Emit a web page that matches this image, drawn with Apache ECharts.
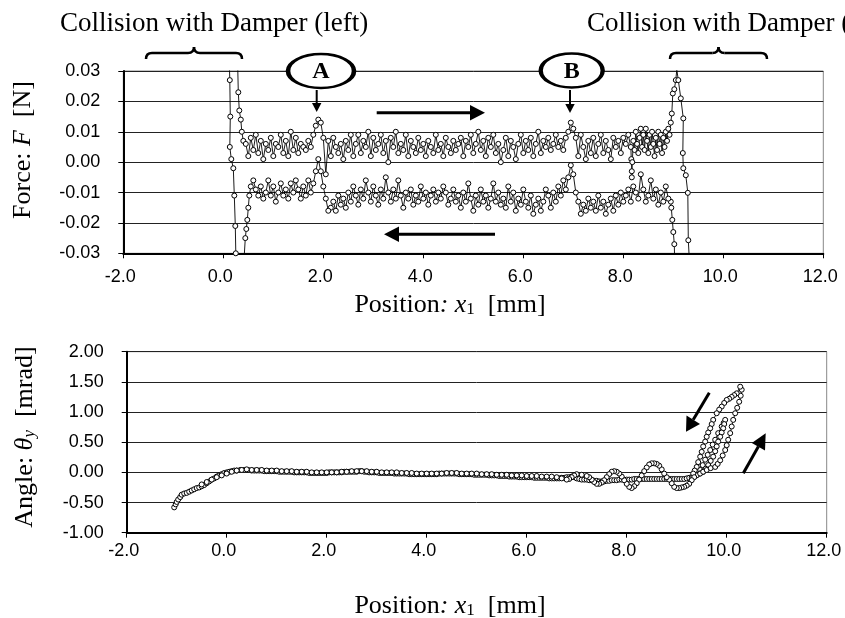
<!DOCTYPE html>
<html><head><meta charset="utf-8">
<script src="https://cdn.jsdelivr.net/npm/echarts@6/dist/echarts.min.js"></script>
<style>html,body{margin:0;padding:0;background:#fff}#c{width:845px;height:618px}</style>
</head><body><div id="c"></div>
<script>
// ---------- DATA ----------
const xTicks = [-2, 0, 2, 4, 6, 8, 10, 12];
const forceTicks = [-0.03, -0.02, -0.01, 0.00, 0.01, 0.02, 0.03];
const angleTicks = [-1.0, -0.5, 0.0, 0.5, 1.0, 1.5, 2.0];

// Force F [N] vs position x1 [mm], moving right (upper branch)
const forwardForce = [
[0.30,-0.050],[0.25,-0.030],[0.24,-0.021],[0.22,-0.011],[0.20,-0.002],[0.16,0.001],[0.13,0.005],[0.14,0.015],[0.13,0.027],[0.10,0.045],[0.20,0.060],[0.27,0.045],[0.30,0.023],[0.32,0.017],[0.35,0.014],[0.37,0.010],[0.40,0.007],
[0.45,0.006],[0.50,0.002],[0.55,0.008],[0.60,0.004],[0.65,0.009],[0.70,0.003],[0.75,0.007],[0.80,0.001],[0.85,0.006],[0.90,0.004],[0.95,0.008],
[1.00,0.002],[1.05,0.006],[1.10,0.005],[1.15,0.009],[1.20,0.003],[1.25,0.007],[1.30,0.002],[1.35,0.010],[1.40,0.004],[1.45,0.008],[1.50,0.003],[1.55,0.006],[1.60,0.005],[1.65,0.004],[1.70,0.007],[1.75,0.005],[1.80,0.009],[1.85,0.012],[1.90,0.014],[1.95,0.013],
[2.00,0.008],[2.05,-0.004],[2.10,0.007],[2.15,0.002],[2.20,0.008],[2.25,0.005],[2.30,0.003],[2.35,0.006],[2.40,0.001],[2.45,0.007],[2.50,0.004],[2.55,0.009],[2.60,0.002],[2.65,0.006],[2.70,0.009],[2.75,0.003],[2.80,0.007],[2.85,0.005],[2.90,0.010],[2.95,0.002],
[3.00,0.008],[3.05,0.004],[3.10,0.006],[3.15,0.009],[3.20,0.003],[3.25,0.007],[3.30,0.000],[3.35,0.008],[3.40,0.005],[3.45,0.010],[3.50,0.003],[3.55,0.006],[3.60,0.004],[3.65,0.009],[3.70,0.002],[3.75,0.007],[3.80,0.005],[3.85,0.003],[3.90,0.008],[3.95,0.004],
[4.00,0.006],[4.05,0.002],[4.10,0.007],[4.15,0.005],[4.20,0.003],[4.25,0.009],[4.30,0.004],[4.35,0.006],[4.40,0.002],[4.45,0.008],[4.50,0.005],[4.55,0.003],[4.60,0.007],[4.65,0.004],[4.70,0.006],[4.75,0.008],[4.80,0.002],[4.85,0.007],[4.90,0.005],[4.95,0.009],
[5.00,0.003],[5.05,0.006],[5.10,0.010],[5.15,0.004],[5.20,0.007],[5.25,0.002],[5.30,0.008],[5.35,0.005],[5.40,0.009],[5.45,0.003],[5.50,0.006],[5.55,0.000],[5.60,0.004],[5.65,0.008],[5.70,0.002],[5.75,0.007],[5.80,0.005],[5.85,0.001],[5.90,0.006],[5.95,0.009],
[6.00,0.003],[6.05,0.007],[6.10,0.004],[6.15,0.008],[6.20,0.002],[6.25,0.006],[6.30,0.010],[6.35,0.003],[6.40,0.007],[6.45,0.005],[6.50,0.008],[6.55,0.004],[6.60,0.006],[6.65,0.009],[6.70,0.005],[6.75,0.007],[6.80,0.004],[6.85,0.008],[6.90,0.010],[6.95,0.013],
[7.00,0.011],[7.05,0.008],[7.10,0.002],[7.15,0.009],[7.20,0.005],[7.25,0.001],[7.30,0.007],[7.35,0.003],[7.40,0.008],[7.45,0.002],[7.50,0.006],[7.55,0.009],[7.60,0.003],[7.65,0.007],[7.70,0.004],[7.75,0.001],[7.80,0.008],[7.85,0.005],[7.90,0.007],[7.95,0.003],
[8.00,0.008],[8.05,0.006],[8.10,0.009],[8.15,0.005],[8.16,0.001],[8.17,-0.003],[8.17,-0.005],[8.18,0.000],
[8.200,0.007],[8.225,0.004],[8.250,0.010],[8.275,0.006],[8.300,0.003],[8.325,0.008],[8.350,0.011],[8.375,0.005],[8.400,0.009],[8.425,0.004],[8.450,0.011],[8.475,0.007],[8.500,0.003],[8.525,0.009],[8.550,0.005],[8.575,0.010],
[8.600,0.006],[8.625,0.002],[8.650,0.008],[8.675,0.004],[8.700,0.010],[8.725,0.006],[8.750,0.009],[8.775,0.003],[8.800,0.008],[8.825,0.005],[8.850,0.010],[8.875,0.007],[8.900,0.011],[8.925,0.009],[8.950,0.013],
[8.97,0.016],[8.99,0.0226],[9.02,0.024],[9.05,0.027],[9.07,0.0305],[9.10,0.027],[9.15,0.021],[9.20,0.0144],[9.19,0.003],[9.20,-0.002],[9.25,-0.0043],[9.29,-0.0101],[9.30,-0.0257],[9.33,-0.035],[9.36,-0.060]
];

// Force F [N] vs position x1 [mm], moving left (lower branch)
const backwardForce = [
[9.20,-0.060],[9.03,-0.035],[9.02,-0.027],[9.00,-0.023],[8.98,-0.019],[8.96,-0.015],
[8.95,-0.013],[8.90,-0.012],[8.85,-0.008],[8.80,-0.013],[8.75,-0.010],[8.70,-0.014],[8.65,-0.009],[8.60,-0.012],[8.55,-0.006],[8.50,-0.011],[8.45,-0.013],[8.40,-0.009],[8.35,-0.004],[8.30,-0.012],[8.25,-0.010],[8.20,-0.008],[8.15,-0.013],[8.10,-0.009],[8.05,-0.011],[8.00,-0.013],
[7.95,-0.010],[7.90,-0.014],[7.85,-0.011],[7.80,-0.016],[7.75,-0.012],[7.70,-0.014],[7.65,-0.017],[7.60,-0.013],[7.55,-0.015],[7.50,-0.011],[7.45,-0.016],[7.40,-0.013],[7.35,-0.015],[7.30,-0.012],[7.25,-0.016],[7.20,-0.014],[7.15,-0.017],[7.10,-0.013],[7.05,-0.010],[7.00,-0.004],
[6.95,-0.001],[6.90,-0.005],[6.85,-0.009],[6.80,-0.006],[6.75,-0.011],[6.70,-0.008],[6.65,-0.013],[6.60,-0.010],[6.55,-0.015],[6.50,-0.011],[6.45,-0.009],[6.40,-0.013],[6.35,-0.016],[6.30,-0.012],[6.25,-0.014],[6.20,-0.017],[6.15,-0.011],[6.10,-0.015],[6.05,-0.013],[6.00,-0.009],
[5.95,-0.014],[5.90,-0.012],[5.85,-0.016],[5.80,-0.010],[5.75,-0.013],[5.70,-0.008],[5.65,-0.015],[5.60,-0.012],[5.55,-0.014],[5.50,-0.010],[5.45,-0.013],[5.40,-0.007],[5.35,-0.012],[5.30,-0.015],[5.25,-0.011],[5.20,-0.013],[5.15,-0.009],[5.10,-0.014],[5.05,-0.011],[5.00,-0.016],
[4.95,-0.012],[4.90,-0.007],[4.85,-0.013],[4.80,-0.010],[4.75,-0.015],[4.70,-0.011],[4.65,-0.013],[4.60,-0.009],[4.55,-0.012],[4.50,-0.014],[4.45,-0.010],[4.40,-0.008],[4.35,-0.012],[4.30,-0.010],[4.25,-0.013],[4.20,-0.009],[4.15,-0.011],[4.10,-0.014],[4.05,-0.010],[4.00,-0.012],
[3.95,-0.008],[3.90,-0.013],[3.85,-0.011],[3.80,-0.014],[3.75,-0.009],[3.70,-0.012],[3.65,-0.010],[3.60,-0.015],[3.55,-0.011],[3.50,-0.006],[3.45,-0.012],[3.40,-0.009],[3.35,-0.013],[3.30,-0.010],[3.25,-0.005],[3.20,-0.012],[3.15,-0.009],[3.10,-0.014],[3.05,-0.011],[3.00,-0.008],
[2.95,-0.013],[2.90,-0.010],[2.85,-0.006],[2.80,-0.012],[2.75,-0.009],[2.70,-0.014],[2.65,-0.011],[2.60,-0.008],[2.55,-0.013],[2.50,-0.010],[2.45,-0.015],[2.40,-0.012],[2.35,-0.014],[2.30,-0.011],[2.25,-0.016],[2.20,-0.013],[2.15,-0.015],[2.10,-0.016],[2.05,-0.012],[2.00,-0.008],
[1.95,-0.003],[1.90,0.001],[1.85,-0.003],[1.80,-0.007],[1.75,-0.010],[1.70,-0.006],[1.65,-0.011],[1.60,-0.008],[1.55,-0.012],[1.50,-0.009],[1.45,-0.006],[1.40,-0.010],[1.35,-0.007],[1.30,-0.012],[1.25,-0.009],[1.20,-0.011],[1.15,-0.007],[1.10,-0.010],[1.05,-0.013],[1.00,-0.008],
[0.95,-0.011],[0.90,-0.006],[0.85,-0.010],[0.80,-0.012],[0.75,-0.008],[0.70,-0.011],[0.65,-0.009],[0.60,-0.006],[0.55,-0.008],
[0.52,-0.011],[0.50,-0.015],[0.48,-0.019],[0.46,-0.022],[0.44,-0.025],[0.40,-0.036],[0.35,-0.050]
];

// Angle theta_y [mrad] vs position x1 [mm]: outward pass
const angleOut = [
[-1.05,-0.58],[-1.02,-0.53],[-1.00,-0.49],[-0.97,-0.45],[-0.93,-0.41],[-0.90,-0.37],[-0.85,-0.35],[-0.80,-0.34],[-0.75,-0.32],[-0.70,-0.30],[-0.65,-0.28],[-0.60,-0.26],[-0.55,-0.25],[-0.50,-0.23],[-0.45,-0.21],[-0.40,-0.18],[-0.35,-0.15],[-0.30,-0.12],[-0.25,-0.10],[-0.20,-0.07],[-0.15,-0.05],[-0.10,-0.03],[-0.05,-0.01],[0.00,0.00],[0.05,0.01],[0.10,0.02],[0.15,0.03],[0.20,0.03],[0.27,0.04],[0.35,0.04],[0.43,0.04],
[0.50,0.03],[0.55,0.03],[0.60,0.03],[0.65,0.03],[0.70,0.03],[0.75,0.02],[0.80,0.02],[0.85,0.02],[0.90,0.02],[0.95,0.02],[1.00,0.02],[1.05,0.01],[1.10,0.01],[1.15,0.01],[1.20,0.01],[1.25,0.01],[1.30,0.01],[1.35,0.00],[1.40,0.00],[1.45,0.00],[1.50,0.00],[1.55,0.00],[1.60,0.00],[1.65,-0.01],[1.70,-0.01],[1.75,-0.01],[1.80,-0.01],[1.85,-0.01],[1.90,-0.01],[1.95,-0.01],
[2.00,-0.01],[2.05,0.00],[2.10,0.00],[2.15,0.00],[2.20,0.00],[2.25,0.00],[2.30,0.00],[2.35,0.01],[2.40,0.01],[2.45,0.01],[2.50,0.01],[2.55,0.01],[2.60,0.01],[2.65,0.02],[2.70,0.02],[2.75,0.01],[2.80,0.01],[2.85,0.00],[2.90,0.00],[2.95,0.00],
[3.00,0.00],[3.05,-0.01],[3.10,-0.01],[3.15,-0.01],[3.20,-0.01],[3.25,-0.01],[3.30,-0.01],[3.35,-0.02],[3.40,-0.02],[3.45,-0.02],[3.50,-0.02],[3.55,-0.02],[3.60,-0.02],[3.65,-0.03],[3.70,-0.03],[3.75,-0.03],[3.80,-0.03],[3.85,-0.03],[3.90,-0.03],[3.95,-0.03],
[4.00,-0.03],[4.05,-0.03],[4.10,-0.03],[4.15,-0.03],[4.20,-0.03],[4.25,-0.02],[4.30,-0.02],[4.35,-0.02],[4.40,-0.02],[4.45,-0.02],[4.50,-0.02],[4.55,-0.02],[4.60,-0.02],[4.65,-0.03],[4.70,-0.03],[4.75,-0.03],[4.80,-0.03],[4.85,-0.03],[4.90,-0.03],[4.95,-0.04],
[5.00,-0.04],[5.05,-0.04],[5.10,-0.04],[5.15,-0.04],[5.20,-0.04],[5.25,-0.05],[5.30,-0.05],[5.35,-0.05],[5.40,-0.05],[5.45,-0.06],[5.50,-0.06],[5.55,-0.06],[5.60,-0.06],[5.65,-0.07],[5.70,-0.07],[5.75,-0.07],[5.80,-0.07],[5.85,-0.08],[5.90,-0.08],[5.95,-0.08],
[6.00,-0.08],[6.05,-0.08],[6.10,-0.08],[6.15,-0.09],[6.20,-0.09],[6.25,-0.09],[6.30,-0.09],[6.35,-0.09],[6.40,-0.09],[6.45,-0.10],[6.50,-0.10],[6.55,-0.10],[6.60,-0.10],[6.65,-0.10],[6.70,-0.09],[6.75,-0.09],[6.80,-0.08],[6.85,-0.08],[6.90,-0.07],[6.95,-0.08],
[7.00,-0.10],[7.05,-0.11],[7.10,-0.12],[7.15,-0.12],[7.20,-0.12],[7.25,-0.13],[7.30,-0.13],[7.35,-0.14],[7.40,-0.14],[7.45,-0.15],[7.50,-0.15],[7.55,-0.15],[7.60,-0.14],[7.65,-0.14],[7.70,-0.13],[7.75,-0.13],[7.80,-0.13],[7.85,-0.12],[7.90,-0.12],[7.95,-0.12],
[8.00,-0.12],[8.05,-0.12],[8.10,-0.12],[8.15,-0.11],[8.20,-0.11],[8.25,-0.11],[8.30,-0.11],[8.35,-0.11],[8.40,-0.11],[8.45,-0.11],[8.50,-0.11],[8.55,-0.11],[8.60,-0.11],[8.65,-0.11],[8.70,-0.11],[8.75,-0.11],[8.80,-0.11],[8.85,-0.11],[8.90,-0.11],[8.95,-0.11],
[9.00,-0.11],[9.05,-0.11],[9.10,-0.11],[9.15,-0.11],[9.20,-0.10],[9.25,-0.09],[9.30,-0.08]
];

// Angle: loops near the right damper
const angleLoops = [
[9.40,-0.04],[9.47,0.04],[9.52,0.12],[9.57,0.21],[9.62,0.29],[9.67,0.37],[9.72,0.46],[9.77,0.54],[9.83,0.65],[9.90,0.76],[9.94,0.82],[9.97,0.87],[9.95,0.80],[9.93,0.73],[9.90,0.66],[9.87,0.59],[9.83,0.51],[9.80,0.43],[9.77,0.35],[9.73,0.26],[9.68,0.19],[9.63,0.12],[9.58,0.06],[9.53,0.01],[9.46,-0.02],[9.40,-0.04],[9.33,-0.07],
[9.40,-0.05],[9.47,-0.02],[9.53,0.01],[9.60,0.04],[9.68,0.07],[9.77,0.09],[9.82,0.14],[9.87,0.20],[9.92,0.28],[9.97,0.37],[10.00,0.45],[10.03,0.54],[10.07,0.65],[10.10,0.76],[10.13,0.87],[10.17,0.98],[10.21,1.07],[10.25,1.17],[10.28,1.27],[10.30,1.37],[10.27,1.42],
[10.20,1.31],[10.15,1.28],[10.10,1.25],[10.05,1.22],[10.00,1.20],[9.95,1.15],[9.90,1.09],[9.85,1.04],[9.80,0.98],[9.73,0.87],[9.70,0.80],[9.67,0.73],[9.63,0.66],[9.60,0.59],[9.57,0.51],[9.53,0.43],[9.50,0.34],[9.47,0.26],[9.43,0.17],[9.40,0.09],[9.36,0.03],[9.33,-0.02]
];

// Angle: return pass
const angleBack = [
[9.35,-0.08],[9.30,-0.13],[9.25,-0.19],[9.20,-0.22],[9.15,-0.24],[9.10,-0.25],[9.05,-0.26],[9.00,-0.26],[8.95,-0.24],[8.90,-0.18],[8.85,-0.12],[8.80,-0.08],[8.75,-0.02],[8.70,0.05],[8.65,0.11],[8.60,0.14],[8.55,0.15],[8.50,0.15],[8.45,0.13],[8.40,0.08],[8.35,0.02],[8.30,-0.05],[8.25,-0.12],[8.20,-0.18],[8.15,-0.23],[8.10,-0.26],[8.05,-0.24],[8.00,-0.19],[7.95,-0.13],[7.90,-0.07],[7.85,-0.02],[7.80,0.01],[7.75,0.02],[7.70,0.01],[7.65,-0.03],[7.60,-0.08],[7.55,-0.13],[7.50,-0.17],[7.45,-0.19],[7.40,-0.19],[7.35,-0.16],[7.30,-0.12],[7.25,-0.08],[7.20,-0.06],[7.10,-0.04],[7.00,-0.03],[6.95,-0.05],[6.90,-0.08],[6.85,-0.11],[6.80,-0.12],[6.70,-0.10],[6.60,-0.08],[6.50,-0.07],
[6.4,-0.07],[6.3,-0.07],[6.2,-0.06],[6.1,-0.06],[6.0,-0.06],[5.9,-0.05],[5.8,-0.05],[5.7,-0.05],[5.6,-0.04],[5.5,-0.04],[5.4,-0.04],[5.3,-0.03],[5.2,-0.03],[5.1,-0.03],[5.0,-0.02],[4.9,-0.02],[4.8,-0.02],[4.7,-0.02],[4.6,-0.01],[4.5,-0.01],[4.4,-0.01],[4.3,-0.02],[4.2,-0.02],[4.1,-0.02],[4.0,-0.02],[3.9,-0.02],[3.8,-0.02],[3.7,-0.01],[3.6,-0.01],[3.5,-0.01],[3.4,0.00],[3.3,0.00],[3.2,0.00],[3.1,0.00],[3.0,0.01],
[2.9,0.01],[2.8,0.02],[2.7,0.02],[2.6,0.02],[2.5,0.02],[2.4,0.01],[2.3,0.01],[2.2,0.00],[2.1,0.00],[2.0,0.00],[1.9,0.00],[1.8,0.00],[1.7,0.00],[1.6,0.01],[1.5,0.01],[1.4,0.01],[1.3,0.02],[1.2,0.02],[1.1,0.02],[1.0,0.03],[0.9,0.03],[0.8,0.03],[0.7,0.04],[0.6,0.04],[0.5,0.04],[0.4,0.05],[0.3,0.04],[0.2,0.03],[0.1,0.01],[0.0,-0.02],[-0.1,-0.05],[-0.2,-0.08],[-0.3,-0.12],[-0.4,-0.16],[-0.5,-0.20]
];

// ---------- CHART ----------
const sans = '"Liberation Sans", Arial, sans-serif';
const serif = '"Liberation Serif", "Times New Roman", serif';
const chart = echarts.init(document.getElementById('c'), null, {renderer: 'canvas'});

function xAxisCfg(grid, margin) {
  return {
    type: 'value', gridIndex: grid, min: xTicks[0], max: xTicks[xTicks.length - 1], interval: 2,
    axisLine: {show: true, onZero: false, lineStyle: {color: '#000', width: 2}},
    axisTick: {show: true, length: 5, lineStyle: {color: '#000', width: 1}},
    axisLabel: {margin: margin, fontFamily: sans, fontSize: 18, color: '#000', padding: [0, 6, 0, 0],
      formatter: v => v.toFixed(1)},
    splitLine: {show: false}
  };
}
function yAxisCfg(grid, ticks, decimals) {
  return {
    type: 'value', gridIndex: grid, min: ticks[0], max: ticks[ticks.length - 1],
    interval: +(ticks[1] - ticks[0]).toFixed(4),
    axisLine: {show: true, onZero: false, lineStyle: {color: '#000', width: 2}},
    axisTick: {show: true, length: 5, lineStyle: {color: '#000', width: 1}},
    axisLabel: {margin: 23, fontFamily: sans, fontSize: 18, color: '#000',
      formatter: v => v.toFixed(decimals)},
    splitLine: {show: true, lineStyle: {color: '#222', width: 1}}
  };
}
function lineSeries(data, xi, size) {
  return {
    type: 'line', xAxisIndex: xi, yAxisIndex: xi, data: data,
    symbol: 'circle', symbolSize: size, showSymbol: true, silent: true,
    lineStyle: {color: '#000', width: 0.9},
    itemStyle: {color: '#fff', borderColor: '#000', borderWidth: 1},
    emphasis: {disabled: true}, animation: false, clip: true
  };
}

function arrowHead(tip, base1, base2) {
  return {type: 'polygon', z: 100, shape: {points: [tip, base1, base2]}, style: {fill: '#000'}};
}
function shaft(x1, y1, x2, y2, w) {
  return {type: 'line', z: 100, shape: {x1, y1, x2, y2}, style: {stroke: '#000', lineWidth: w}};
}
function curve(x1, y1, cx, cy, x2, y2) {
  return {type: 'bezierCurve', z: 100, shape: {x1, y1, x2, y2, cpx1: cx, cpy1: cy}, style: {fill: 'none', stroke: '#000', lineWidth: 2.5}};
}
function brace(xa, xb, ybar, ytop, yend) {
  const xm = (xa + xb) / 2;
  return [
    curve(xa, yend, xa, ybar, xa + 6, ybar),
    shaft(xa + 6, ybar, xm - 6, ybar, 2.5),
    curve(xm - 6, ybar, xm, ybar, xm, ytop),
    curve(xm, ytop, xm, ybar, xm + 6, ybar),
    shaft(xm + 6, ybar, xb - 6, ybar, 2.5),
    curve(xb - 6, ybar, xb, ybar, xb, yend)
  ];
}
function oval(cx, cy, rx, ry) {
  return {type: 'circle', z: 100, x: cx, y: cy, scaleX: rx / ry, shape: {cx: 0, cy: 0, r: ry}, style: {fill: '#fff', stroke: '#000', lineWidth: 2.4}};
}

const posTitle = '{a|Position}{i|: x}{s|1}{a|  [mm]}';
const titleRich = {
  a: {fontFamily: serif, fontSize: 26, color: '#000'},
  i: {fontFamily: serif, fontSize: 26, fontStyle: 'italic', color: '#000'},
  s: {fontFamily: serif, fontSize: 17, color: '#000', verticalAlign: 'bottom', padding: [8, 0, 0, 0]}
};
const angleRich = Object.assign({}, titleRich, {si: {fontFamily: serif, fontSize: 17, fontStyle: 'italic', color: '#000', verticalAlign: 'bottom', padding: [8, 0, 0, 0]}});
const ctr = {align: 'center', verticalAlign: 'middle'};

const option = {
  animation: false,
  backgroundColor: '#fff',
  grid: [
    {left: 123.3, top: 71, width: 700, height: 182.3, show: true, borderColor: '#888', borderWidth: 1, outerBoundsMode: 'none', containLabel: false},
    {left: 126.7, top: 351.7, width: 700, height: 181, show: true, borderColor: '#888', borderWidth: 1, outerBoundsMode: 'none', containLabel: false}
  ],
  xAxis: [xAxisCfg(0, 15), xAxisCfg(1, 9)],
  yAxis: [yAxisCfg(0, forceTicks, 2), yAxisCfg(1, angleTicks, 2)],
  series: [
    lineSeries(forwardForce, 0, 5),
    lineSeries(backwardForce, 0, 5),
    lineSeries(angleOut, 1, 5),
    lineSeries(angleLoops, 1, 5),
    lineSeries(angleBack, 1, 5)
  ],
  graphic: [].concat(
    [
      {type: 'text', z: 100, x: 60, y: 24, style: {text: 'Collision with Damper (left)', font: '27px ' + serif, fill: '#000', align: 'left', verticalAlign: 'middle'}},
      {type: 'text', z: 100, x: 587, y: 24, style: {text: 'Collision with Damper (right)', font: '27px ' + serif, fill: '#000', align: 'left', verticalAlign: 'middle'}}
    ],
    brace(146, 242, 53, 47, 59),
    brace(670, 767, 53, 47, 59),
    [
      oval(321, 71, 33, 17),
      oval(571.7, 70.5, 31, 17),
      {type: 'text', z: 101, x: 321, y: 72, style: Object.assign({text: 'A', font: 'bold 24px ' + serif, fill: '#000'}, ctr)},
      {type: 'text', z: 101, x: 571.7, y: 72, style: Object.assign({text: 'B', font: 'bold 24px ' + serif, fill: '#000'}, ctr)},
      shaft(316.7, 90, 316.7, 104, 2), arrowHead([316.7, 112], [312, 103], [321.4, 103]),
      shaft(570, 90, 570, 104, 2), arrowHead([570, 113], [565.3, 104], [574.7, 104]),
      shaft(376.7, 112.7, 472, 112.7, 3), arrowHead([485, 112.7], [470, 105], [470, 120.4]),
      shaft(397, 234.3, 495, 234.3, 3), arrowHead([384, 234.3], [399, 226.6], [399, 242]),
      shaft(709.3, 392.7, 693.2, 419.7, 3), arrowHead([686, 431.7], [700, 424], [686.5, 415.5]),
      shaft(743.3, 473.3, 758.4, 446.4, 3), arrowHead([765.7, 433.3], [765, 450.5], [751.8, 443]),
      {type: 'text', z: 100, x: 450, y: 305, style: Object.assign({text: posTitle, rich: titleRich}, ctr)},
      {type: 'text', z: 100, x: 450, y: 606, style: Object.assign({text: posTitle, rich: titleRich}, ctr)},
      {type: 'text', z: 100, x: 23, y: 150, rotation: Math.PI / 2, style: Object.assign({text: '{a|Force: }{i|F}{a|  [N]}', rich: titleRich}, ctr)},
      {type: 'text', z: 100, x: 25, y: 437, rotation: Math.PI / 2, style: Object.assign({text: '{a|Angle: }{i|θ}{si|y}{a|  [mrad]}', rich: angleRich}, ctr)}
    ]
  )
};
chart.setOption(option);
</script>
</body></html>
